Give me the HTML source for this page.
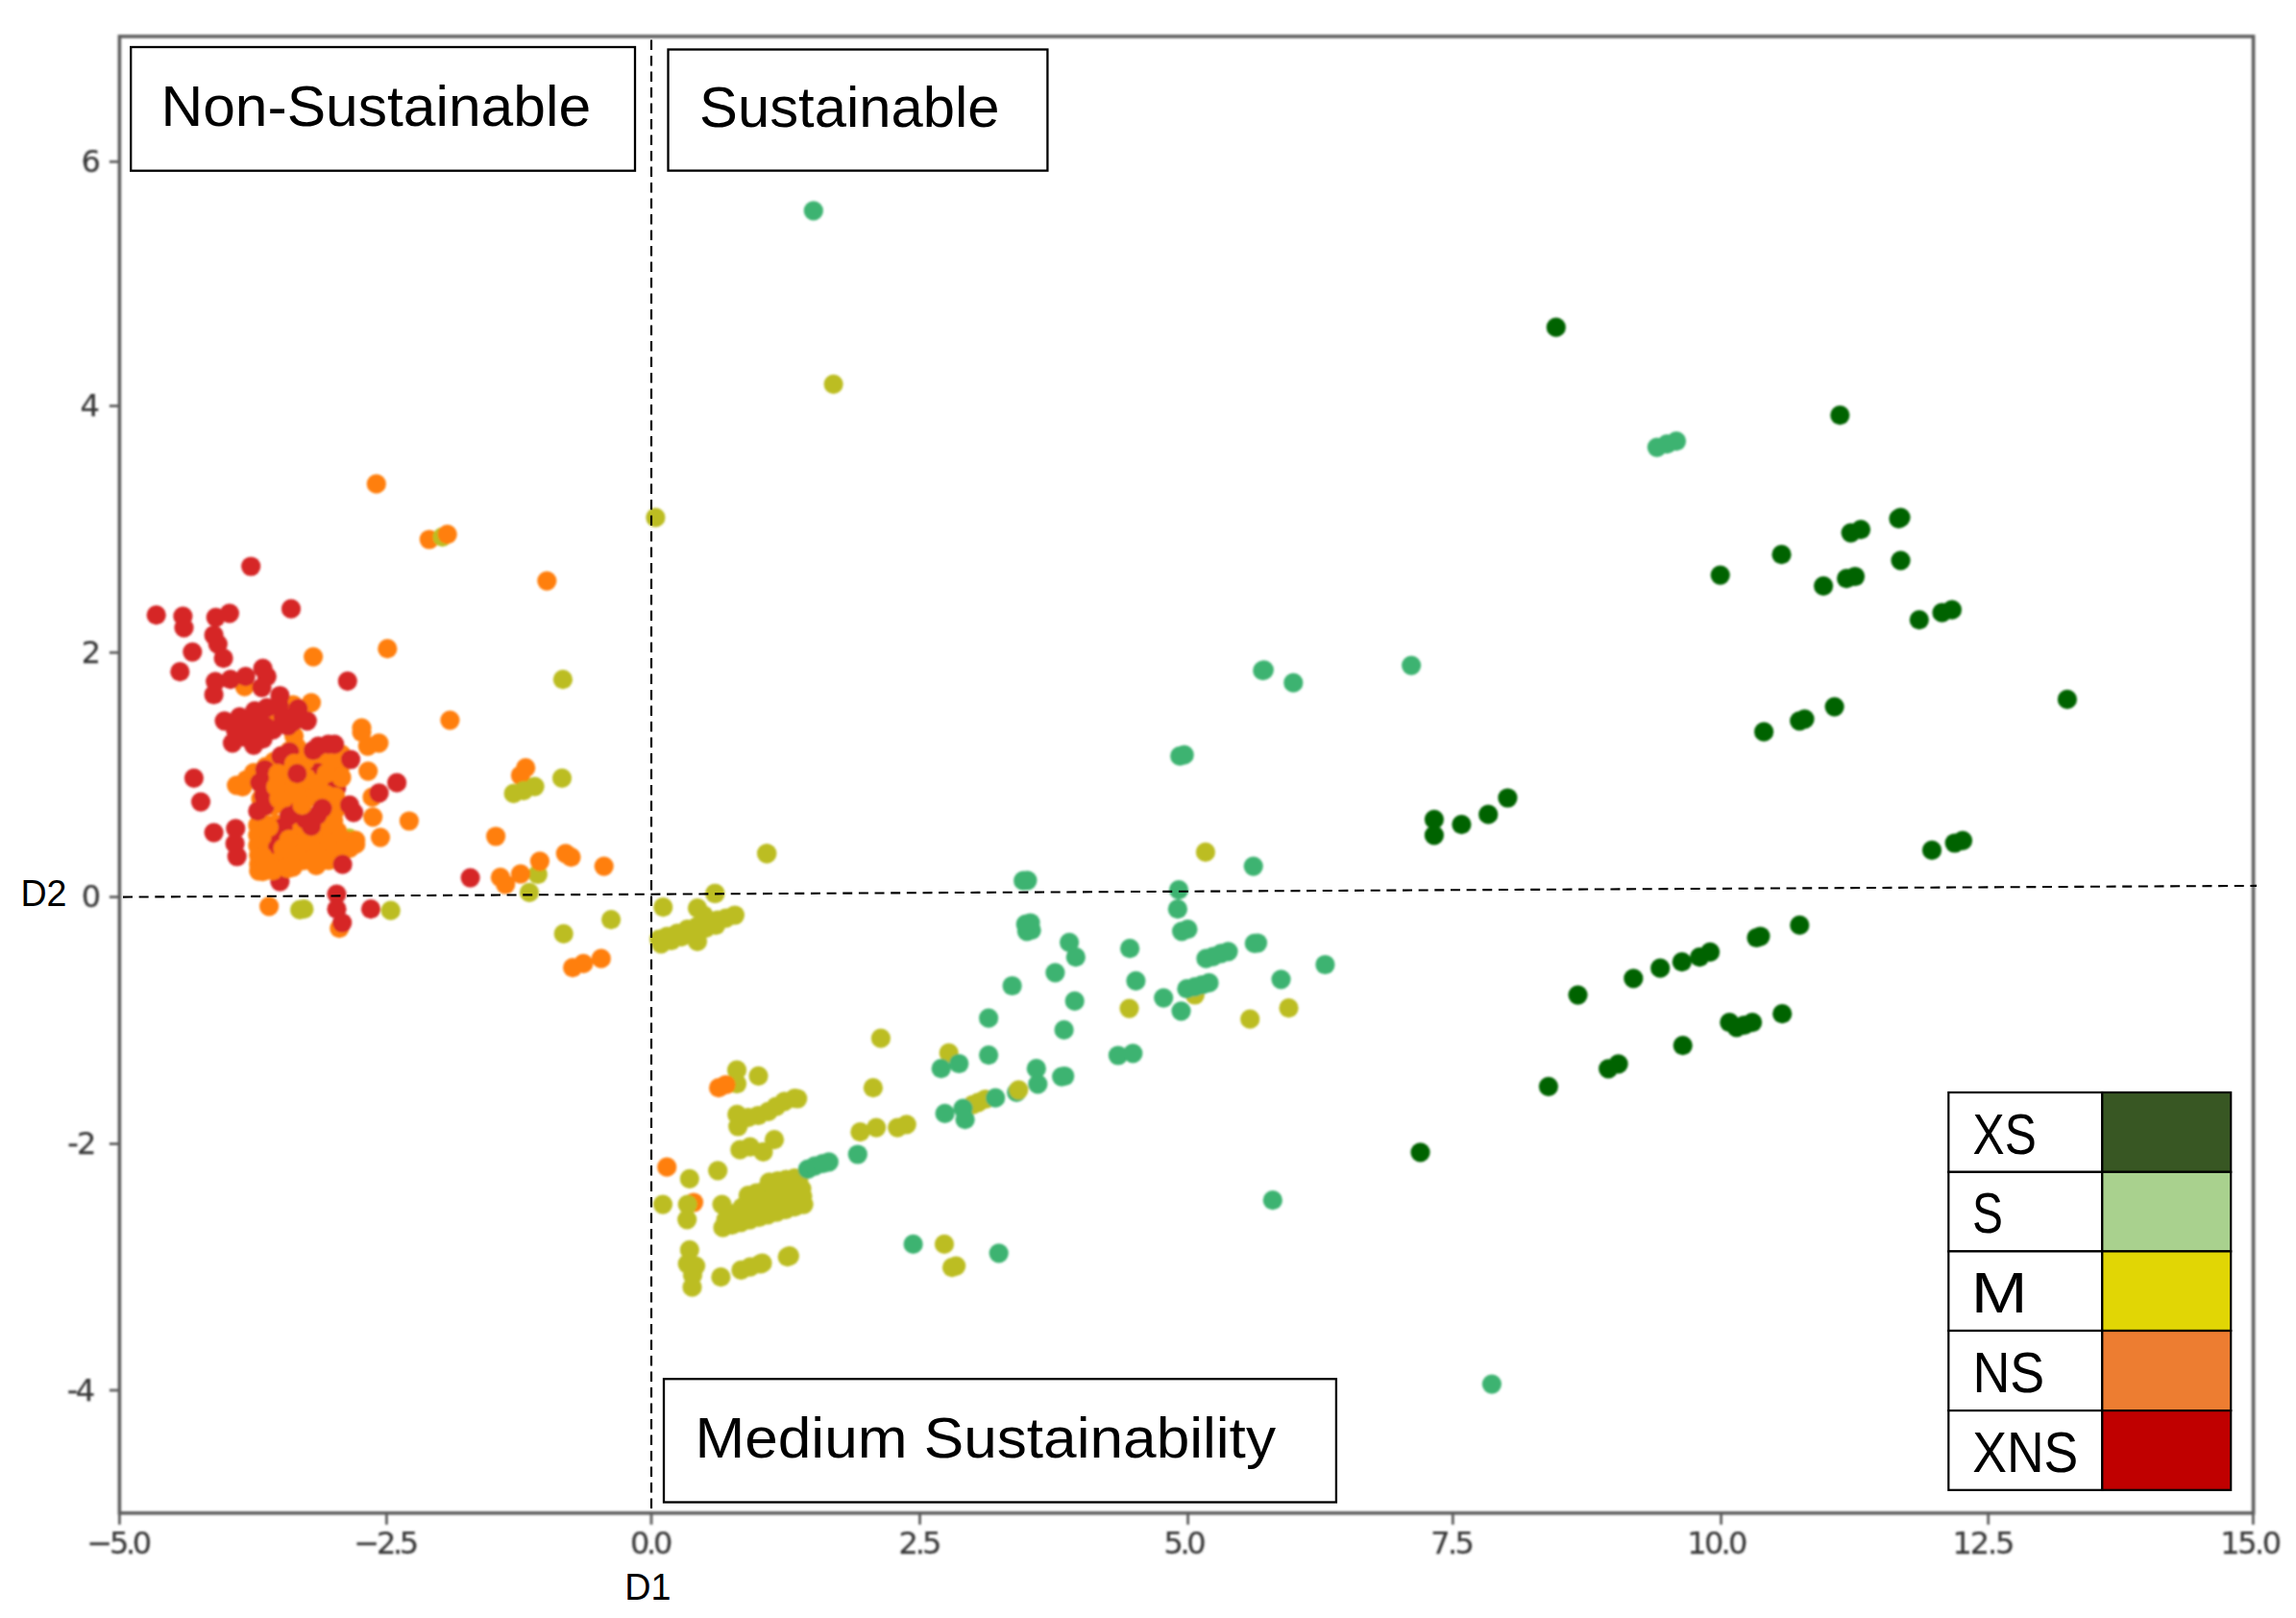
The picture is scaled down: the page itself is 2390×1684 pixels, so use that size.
<!DOCTYPE html>
<html lang="en"><head><meta charset="utf-8"><title>Sustainability scatter plot (D1 vs D2)</title>
<style>html,body{margin:0;padding:0;background:#fff}svg{display:block}.tk{font-family:"DejaVu Sans","Liberation Sans",sans-serif;font-size:32px;fill:#383838;stroke:#383838;stroke-width:0.25px}.cb{font-family:"Liberation Sans","DejaVu Sans",sans-serif;fill:#000}</style></head><body>
<svg width="2390" height="1684" viewBox="0 0 2390 1684">
<defs><filter id="b" x="-5%" y="-5%" width="110%" height="110%"><feGaussianBlur stdDeviation="1.1"/></filter><filter id="b2" x="-5%" y="-5%" width="110%" height="110%"><feGaussianBlur stdDeviation="0.9"/></filter></defs>
<rect width="2390" height="1684" fill="#fff"/>
<g filter="url(#b)">
<rect x="124.4" y="37.9" width="2221.2" height="1536.9" fill="none" stroke="#5e5e5e" stroke-width="3.6"/>
<line x1="124.4" y1="1574.8" x2="124.4" y2="1586.8" stroke="#5e5e5e" stroke-width="2.8"/>
<line x1="402.4" y1="1574.8" x2="402.4" y2="1586.8" stroke="#5e5e5e" stroke-width="2.8"/>
<line x1="678" y1="1574.8" x2="678" y2="1586.8" stroke="#5e5e5e" stroke-width="2.8"/>
<line x1="957.5" y1="1574.8" x2="957.5" y2="1586.8" stroke="#5e5e5e" stroke-width="2.8"/>
<line x1="1236.6" y1="1574.8" x2="1236.6" y2="1586.8" stroke="#5e5e5e" stroke-width="2.8"/>
<line x1="1512.3" y1="1574.8" x2="1512.3" y2="1586.8" stroke="#5e5e5e" stroke-width="2.8"/>
<line x1="1791.6" y1="1574.8" x2="1791.6" y2="1586.8" stroke="#5e5e5e" stroke-width="2.8"/>
<line x1="2069.7" y1="1574.8" x2="2069.7" y2="1586.8" stroke="#5e5e5e" stroke-width="2.8"/>
<line x1="2345.4" y1="1574.8" x2="2345.4" y2="1586.8" stroke="#5e5e5e" stroke-width="2.8"/>
<line x1="113.9" y1="168.3" x2="124.4" y2="168.3" stroke="#5e5e5e" stroke-width="2.8"/>
<line x1="113.9" y1="422.5" x2="124.4" y2="422.5" stroke="#5e5e5e" stroke-width="2.8"/>
<line x1="113.9" y1="679.2" x2="124.4" y2="679.2" stroke="#5e5e5e" stroke-width="2.8"/>
<line x1="113.9" y1="933.6" x2="124.4" y2="933.6" stroke="#5e5e5e" stroke-width="2.8"/>
<line x1="113.9" y1="1190.5" x2="124.4" y2="1190.5" stroke="#5e5e5e" stroke-width="2.8"/>
<line x1="113.9" y1="1447" x2="124.4" y2="1447" stroke="#5e5e5e" stroke-width="2.8"/>
</g>
<g filter="url(#b2)">
<text class="tk" x="90.5" y="1616.6" style="letter-spacing:-3.33px">−5.0</text>
<text class="tk" x="368.5" y="1616.6" style="letter-spacing:-3.33px">−2.5</text>
<text class="tk" x="656.0" y="1616.6" style="letter-spacing:-3.25px">0.0</text>
<text class="tk" x="935.5" y="1616.6" style="letter-spacing:-3.00px">2.5</text>
<text class="tk" x="1211.6" y="1616.6" style="letter-spacing:-3.45px">5.0</text>
<text class="tk" x="1489.3" y="1616.6" style="letter-spacing:-2.65px">7.5</text>
<text class="tk" x="1756.2" y="1616.6" style="letter-spacing:-2.67px">10.0</text>
<text class="tk" x="2032.4" y="1616.6" style="letter-spacing:-2.10px">12.5</text>
<text class="tk" x="2311.3" y="1616.6" style="letter-spacing:-2.50px">15.0</text>
<text class="tk" x="84.5" y="178.9" style="letter-spacing:0.00px">6</text>
<text class="tk" x="83.4" y="433.1" style="letter-spacing:0.00px">4</text>
<text class="tk" x="84.8" y="689.8" style="letter-spacing:0.00px">2</text>
<text class="tk" x="84.7" y="944.2" style="letter-spacing:0.00px">0</text>
<text class="tk" x="70.2" y="1201.1" style="letter-spacing:-1.70px">-2</text>
<text class="tk" x="69.8" y="1457.6" style="letter-spacing:-2.60px">-4</text>
</g>
<g filter="url(#b)">
<g fill="#3cb371">
<circle cx="846.8" cy="219.4" r="10.1"/>
</g>
<g fill="#bcbd22">
<circle cx="867.6" cy="399.8" r="10.1"/>
<circle cx="682.4" cy="538.7" r="10.1"/>
</g>
<g fill="#006400">
<circle cx="1619.8" cy="340.7" r="10.1"/>
<circle cx="1915.3" cy="432.1" r="10.1"/>
<circle cx="1978.5" cy="538.6" r="10.1"/>
<circle cx="1976.4" cy="539.8" r="10.1"/>
<circle cx="1926.6" cy="554.6" r="10.1"/>
<circle cx="1937.0" cy="551.1" r="10.1"/>
<circle cx="1854.5" cy="577.2" r="10.1"/>
<circle cx="1978.5" cy="583.4" r="10.1"/>
<circle cx="1790.7" cy="598.6" r="10.1"/>
<circle cx="1898.1" cy="609.8" r="10.1"/>
<circle cx="1922.1" cy="602.1" r="10.1"/>
<circle cx="1931.0" cy="600.0" r="10.1"/>
<circle cx="1997.8" cy="645.1" r="10.1"/>
<circle cx="2021.5" cy="637.7" r="10.1"/>
<circle cx="2031.9" cy="634.7" r="10.1"/>
<circle cx="1909.6" cy="735.6" r="10.1"/>
<circle cx="1873.2" cy="750.4" r="10.1"/>
<circle cx="1878.5" cy="748.4" r="10.1"/>
<circle cx="1836.1" cy="761.7" r="10.1"/>
</g>
<g fill="#3cb371">
<circle cx="1724.8" cy="465.6" r="10.1"/>
<circle cx="1735.2" cy="462.1" r="10.1"/>
<circle cx="1745.0" cy="459.1" r="10.1"/>
<circle cx="1469.1" cy="692.6" r="10.1"/>
</g>
<g fill="#006400">
<circle cx="2151.9" cy="727.9" r="10.1"/>
<circle cx="1492.9" cy="852.8" r="10.1"/>
<circle cx="1492.9" cy="869.4" r="10.1"/>
<circle cx="1521.4" cy="858.1" r="10.1"/>
<circle cx="1549.2" cy="847.7" r="10.1"/>
<circle cx="1569.4" cy="830.5" r="10.1"/>
<circle cx="2011.0" cy="884.9" r="10.1"/>
<circle cx="2034.7" cy="877.5" r="10.1"/>
<circle cx="2043.0" cy="874.8" r="10.1"/>
<circle cx="1873.3" cy="962.9" r="10.1"/>
<circle cx="1828.5" cy="976.0" r="10.1"/>
<circle cx="1832.4" cy="974.5" r="10.1"/>
<circle cx="1780.1" cy="990.8" r="10.1"/>
<circle cx="1769.2" cy="996.1" r="10.1"/>
<circle cx="1750.8" cy="1001.2" r="10.1"/>
<circle cx="1728.2" cy="1007.7" r="10.1"/>
<circle cx="1700.3" cy="1018.4" r="10.1"/>
<circle cx="1642.5" cy="1035.6" r="10.1"/>
<circle cx="1855.2" cy="1055.2" r="10.1"/>
<circle cx="1800.3" cy="1064.1" r="10.1"/>
<circle cx="1807.7" cy="1069.4" r="10.1"/>
<circle cx="1815.5" cy="1067.0" r="10.1"/>
<circle cx="1824.1" cy="1064.1" r="10.1"/>
<circle cx="1751.7" cy="1088.1" r="10.1"/>
<circle cx="1674.2" cy="1112.4" r="10.1"/>
<circle cx="1684.6" cy="1107.4" r="10.1"/>
<circle cx="1611.9" cy="1130.8" r="10.1"/>
<circle cx="1478.5" cy="1199.4" r="10.1"/>
</g>
<g fill="#3cb371">
<circle cx="1324.8" cy="1249.2" r="10.1"/>
<circle cx="1552.9" cy="1440.6" r="10.1"/>
<circle cx="1314.3" cy="697.9" r="10.1"/>
<circle cx="1315.8" cy="697.3" r="10.1"/>
<circle cx="1346.3" cy="710.7" r="10.1"/>
<circle cx="1228.2" cy="786.9" r="10.1"/>
<circle cx="1232.7" cy="785.7" r="10.1"/>
</g>
<g fill="#bcbd22">
<circle cx="1254.9" cy="886.9" r="10.1"/>
<circle cx="1175.5" cy="1049.6" r="10.1"/>
<circle cx="1243.8" cy="1035.5" r="10.1"/>
<circle cx="1301.2" cy="1060.7" r="10.1"/>
<circle cx="1341.5" cy="1049.2" r="10.1"/>
</g>
<g fill="#3cb371">
<circle cx="1065.2" cy="916.7" r="10.1"/>
<circle cx="1069.4" cy="916.3" r="10.1"/>
<circle cx="1072.5" cy="960.5" r="10.1"/>
<circle cx="1068.9" cy="969.3" r="10.1"/>
<circle cx="1073.6" cy="968.2" r="10.1"/>
<circle cx="1067.7" cy="961.9" r="10.1"/>
<circle cx="1113.1" cy="980.8" r="10.1"/>
<circle cx="1119.8" cy="996.2" r="10.1"/>
<circle cx="1098.4" cy="1012.4" r="10.1"/>
<circle cx="1053.6" cy="1026.0" r="10.1"/>
<circle cx="1118.7" cy="1041.8" r="10.1"/>
<circle cx="1107.6" cy="1071.9" r="10.1"/>
<circle cx="1078.8" cy="1112.2" r="10.1"/>
<circle cx="1108.2" cy="1120.0" r="10.1"/>
<circle cx="1105.1" cy="1120.6" r="10.1"/>
<circle cx="1163.9" cy="1098.5" r="10.1"/>
<circle cx="1179.3" cy="1096.4" r="10.1"/>
<circle cx="1176.1" cy="987.2" r="10.1"/>
<circle cx="1182.4" cy="1020.8" r="10.1"/>
<circle cx="1211.2" cy="1038.6" r="10.1"/>
<circle cx="1229.5" cy="1052.3" r="10.1"/>
<circle cx="1227.0" cy="926.2" r="10.1"/>
<circle cx="1225.9" cy="946.2" r="10.1"/>
<circle cx="1230.1" cy="969.3" r="10.1"/>
<circle cx="1236.4" cy="967.2" r="10.1"/>
<circle cx="1255.4" cy="997.7" r="10.1"/>
<circle cx="1262.7" cy="995.6" r="10.1"/>
<circle cx="1271.1" cy="992.4" r="10.1"/>
<circle cx="1278.5" cy="990.3" r="10.1"/>
<circle cx="1305.8" cy="981.9" r="10.1"/>
<circle cx="1309.0" cy="981.5" r="10.1"/>
<circle cx="1235.4" cy="1029.2" r="10.1"/>
<circle cx="1243.8" cy="1027.1" r="10.1"/>
<circle cx="1251.2" cy="1025.0" r="10.1"/>
<circle cx="1258.5" cy="1022.9" r="10.1"/>
<circle cx="1304.7" cy="901.6" r="10.1"/>
<circle cx="1333.5" cy="1019.3" r="10.1"/>
<circle cx="1379.4" cy="1004.0" r="10.1"/>
</g>
<g fill="#bcbd22">
<circle cx="798.1" cy="888.4" r="10.1"/>
<circle cx="744.3" cy="929.8" r="10.1"/>
<circle cx="690.3" cy="944.1" r="10.1"/>
<circle cx="726.0" cy="945.1" r="10.1"/>
<circle cx="764.9" cy="952.5" r="10.1"/>
<circle cx="636.1" cy="957.1" r="10.1"/>
<circle cx="586.7" cy="971.8" r="10.1"/>
<circle cx="686.1" cy="977.7" r="10.1"/>
<circle cx="694.5" cy="974.5" r="10.1"/>
<circle cx="705.0" cy="971.4" r="10.1"/>
<circle cx="715.5" cy="967.2" r="10.1"/>
<circle cx="726.0" cy="964.0" r="10.1"/>
<circle cx="736.5" cy="960.9" r="10.1"/>
<circle cx="747.1" cy="957.7" r="10.1"/>
<circle cx="755.5" cy="955.6" r="10.1"/>
<circle cx="726.0" cy="979.8" r="10.1"/>
<circle cx="732.3" cy="952.5" r="10.1"/>
<circle cx="688.2" cy="982.3" r="10.1"/>
<circle cx="698.7" cy="979.0" r="10.1"/>
<circle cx="709.2" cy="975.2" r="10.1"/>
<circle cx="719.7" cy="971.0" r="10.1"/>
<circle cx="734.4" cy="966.1" r="10.1"/>
<circle cx="745.0" cy="963.0" r="10.1"/>
<circle cx="916.9" cy="1080.7" r="10.1"/>
<circle cx="987.7" cy="1095.8" r="10.1"/>
<circle cx="767.0" cy="1113.7" r="10.1"/>
<circle cx="789.5" cy="1119.8" r="10.1"/>
<circle cx="767.0" cy="1128.0" r="10.1"/>
<circle cx="908.9" cy="1132.2" r="10.1"/>
</g>
<g fill="#ff7f0e">
<circle cx="596.1" cy="1007.1" r="10.1"/>
<circle cx="607.3" cy="1002.9" r="10.1"/>
<circle cx="625.8" cy="997.7" r="10.1"/>
</g>
<g fill="#3cb371">
<circle cx="1029.1" cy="1059.7" r="10.1"/>
<circle cx="1029.1" cy="1098.1" r="10.1"/>
<circle cx="998.2" cy="1107.0" r="10.1"/>
<circle cx="979.7" cy="1112.2" r="10.1"/>
</g>
<g fill="#ff7f0e">
<circle cx="748.1" cy="1132.2" r="10.1"/>
<circle cx="755.5" cy="1129.0" r="10.1"/>
</g>
<g fill="#bcbd22">
<circle cx="767.2" cy="1159.9" r="10.1"/>
<circle cx="768.2" cy="1172.5" r="10.1"/>
<circle cx="778.7" cy="1163.1" r="10.1"/>
<circle cx="789.2" cy="1161.0" r="10.1"/>
<circle cx="799.7" cy="1156.8" r="10.1"/>
<circle cx="808.1" cy="1151.5" r="10.1"/>
<circle cx="816.5" cy="1146.3" r="10.1"/>
<circle cx="827.1" cy="1143.1" r="10.1"/>
<circle cx="830.2" cy="1143.5" r="10.1"/>
<circle cx="895.4" cy="1178.2" r="10.1"/>
<circle cx="912.2" cy="1173.6" r="10.1"/>
<circle cx="934.2" cy="1173.6" r="10.1"/>
<circle cx="943.7" cy="1170.4" r="10.1"/>
<circle cx="770.3" cy="1196.7" r="10.1"/>
<circle cx="780.8" cy="1193.6" r="10.1"/>
<circle cx="794.5" cy="1198.8" r="10.1"/>
<circle cx="806.0" cy="1186.2" r="10.1"/>
<circle cx="983.0" cy="1294.9" r="10.1"/>
<circle cx="995.2" cy="1317.6" r="10.1"/>
<circle cx="991.0" cy="1319.2" r="10.1"/>
<circle cx="1018.3" cy="1147.3" r="10.1"/>
<circle cx="1012.4" cy="1149.8" r="10.1"/>
<circle cx="1025.7" cy="1144.0" r="10.1"/>
</g>
<g fill="#3cb371">
<circle cx="983.6" cy="1158.9" r="10.1"/>
<circle cx="1002.5" cy="1153.6" r="10.1"/>
<circle cx="1004.6" cy="1165.2" r="10.1"/>
<circle cx="1036.2" cy="1142.7" r="10.1"/>
<circle cx="1058.2" cy="1136.8" r="10.1"/>
<circle cx="1080.3" cy="1128.4" r="10.1"/>
</g>
<g fill="#bcbd22">
<circle cx="1060.3" cy="1134.3" r="10.1"/>
</g>
<g fill="#3cb371">
<circle cx="950.6" cy="1294.9" r="10.1"/>
<circle cx="1039.7" cy="1304.3" r="10.1"/>
</g>
<g fill="#ff7f0e">
<circle cx="694.2" cy="1214.7" r="10.1"/>
</g>
<g fill="#bcbd22">
<circle cx="717.8" cy="1226.8" r="10.1"/>
<circle cx="747.2" cy="1218.4" r="10.1"/>
<circle cx="690.0" cy="1253.6" r="10.1"/>
</g>
<g fill="#ff7f0e">
<circle cx="722.0" cy="1251.5" r="10.1"/>
</g>
<g fill="#bcbd22">
<circle cx="715.7" cy="1253.6" r="10.1"/>
<circle cx="715.2" cy="1269.3" r="10.1"/>
<circle cx="752.5" cy="1277.7" r="10.1"/>
<circle cx="761.8" cy="1275.0" r="10.1"/>
<circle cx="771.2" cy="1272.3" r="10.1"/>
<circle cx="780.5" cy="1269.7" r="10.1"/>
<circle cx="789.9" cy="1267.0" r="10.1"/>
<circle cx="799.2" cy="1264.3" r="10.1"/>
<circle cx="808.5" cy="1261.6" r="10.1"/>
<circle cx="817.9" cy="1258.9" r="10.1"/>
<circle cx="827.2" cy="1256.2" r="10.1"/>
<circle cx="836.6" cy="1253.6" r="10.1"/>
<circle cx="755.7" cy="1269.3" r="10.1"/>
<circle cx="764.5" cy="1266.6" r="10.1"/>
<circle cx="773.4" cy="1263.9" r="10.1"/>
<circle cx="782.3" cy="1261.3" r="10.1"/>
<circle cx="791.1" cy="1258.6" r="10.1"/>
<circle cx="800.0" cy="1255.9" r="10.1"/>
<circle cx="808.9" cy="1253.2" r="10.1"/>
<circle cx="817.8" cy="1250.5" r="10.1"/>
<circle cx="826.6" cy="1247.8" r="10.1"/>
<circle cx="835.5" cy="1245.1" r="10.1"/>
<circle cx="772.5" cy="1256.7" r="10.1"/>
<circle cx="781.3" cy="1253.9" r="10.1"/>
<circle cx="790.2" cy="1251.2" r="10.1"/>
<circle cx="799.0" cy="1248.4" r="10.1"/>
<circle cx="807.9" cy="1245.6" r="10.1"/>
<circle cx="816.7" cy="1242.8" r="10.1"/>
<circle cx="825.6" cy="1240.0" r="10.1"/>
<circle cx="834.5" cy="1237.3" r="10.1"/>
<circle cx="778.8" cy="1244.1" r="10.1"/>
<circle cx="787.5" cy="1241.5" r="10.1"/>
<circle cx="796.3" cy="1238.8" r="10.1"/>
<circle cx="805.0" cy="1236.2" r="10.1"/>
<circle cx="813.8" cy="1233.6" r="10.1"/>
<circle cx="822.6" cy="1231.0" r="10.1"/>
<circle cx="831.3" cy="1228.3" r="10.1"/>
<circle cx="800.8" cy="1230.4" r="10.1"/>
<circle cx="809.6" cy="1229.0" r="10.1"/>
<circle cx="818.3" cy="1227.6" r="10.1"/>
<circle cx="827.1" cy="1226.2" r="10.1"/>
<circle cx="751.5" cy="1253.6" r="10.1"/>
<circle cx="759.9" cy="1263.0" r="10.1"/>
<circle cx="717.8" cy="1300.8" r="10.1"/>
<circle cx="715.7" cy="1315.5" r="10.1"/>
<circle cx="724.1" cy="1317.6" r="10.1"/>
<circle cx="721.0" cy="1327.1" r="10.1"/>
<circle cx="720.5" cy="1339.7" r="10.1"/>
<circle cx="750.4" cy="1329.2" r="10.1"/>
<circle cx="771.4" cy="1321.9" r="10.1"/>
<circle cx="780.9" cy="1318.7" r="10.1"/>
<circle cx="791.4" cy="1315.5" r="10.1"/>
<circle cx="793.5" cy="1314.7" r="10.1"/>
<circle cx="821.9" cy="1307.1" r="10.1"/>
<circle cx="819.7" cy="1308.2" r="10.1"/>
</g>
<g fill="#3cb371">
<circle cx="840.8" cy="1216.8" r="10.1"/>
<circle cx="848.1" cy="1213.6" r="10.1"/>
<circle cx="856.5" cy="1211.0" r="10.1"/>
<circle cx="862.8" cy="1209.4" r="10.1"/>
<circle cx="892.8" cy="1201.5" r="10.1"/>
</g>
<g fill="#ff7f0e">
<circle cx="569.3" cy="604.6" r="10.1"/>
<circle cx="468.4" cy="749.6" r="10.1"/>
</g>
<g fill="#bcbd22">
<circle cx="585.9" cy="707.2" r="10.1"/>
<circle cx="585.0" cy="809.8" r="10.1"/>
</g>
<g fill="#ff7f0e">
<circle cx="547.2" cy="799.2" r="10.1"/>
<circle cx="541.9" cy="807.0" r="10.1"/>
</g>
<g fill="#bcbd22">
<circle cx="556.6" cy="818.6" r="10.1"/>
<circle cx="545.1" cy="822.8" r="10.1"/>
<circle cx="534.6" cy="825.9" r="10.1"/>
</g>
<g fill="#ff7f0e">
<circle cx="516.1" cy="870.5" r="10.1"/>
<circle cx="588.8" cy="888.4" r="10.1"/>
<circle cx="594.5" cy="892.1" r="10.1"/>
<circle cx="628.7" cy="901.6" r="10.1"/>
</g>
<g fill="#bcbd22">
<circle cx="559.8" cy="910.0" r="10.1"/>
</g>
<g fill="#ff7f0e">
<circle cx="561.9" cy="896.3" r="10.1"/>
<circle cx="541.9" cy="909.6" r="10.1"/>
<circle cx="520.9" cy="913.2" r="10.1"/>
<circle cx="526.2" cy="920.5" r="10.1"/>
</g>
<g fill="#d62728">
<circle cx="489.6" cy="913.6" r="10.1"/>
</g>
<g fill="#bcbd22">
<circle cx="551.0" cy="928.9" r="10.1"/>
<circle cx="798.3" cy="888.4" r="10.1"/>
<circle cx="744.3" cy="930.0" r="10.1"/>
</g>
<g fill="#ff7f0e">
<circle cx="391.8" cy="503.7" r="10.1"/>
<circle cx="446.8" cy="561.5" r="10.1"/>
</g>
<g fill="#bcbd22">
<circle cx="460.5" cy="558.8" r="10.1"/>
</g>
<g fill="#ff7f0e">
<circle cx="465.7" cy="556.1" r="10.1"/>
</g>
<g fill="#d62728">
<circle cx="261.2" cy="589.5" r="10.1"/>
<circle cx="162.7" cy="640.2" r="10.1"/>
<circle cx="190.4" cy="641.4" r="10.1"/>
<circle cx="191.5" cy="653.4" r="10.1"/>
<circle cx="200.3" cy="678.6" r="10.1"/>
<circle cx="187.3" cy="699.2" r="10.1"/>
</g>
<g fill="#ff7f0e">
<circle cx="383.2" cy="802.6" r="10.1"/>
<circle cx="388.2" cy="850.3" r="10.1"/>
<circle cx="425.9" cy="854.5" r="10.1"/>
</g>
<g fill="#bcbd22">
<circle cx="363.3" cy="872.3" r="10.1"/>
</g>
<g fill="#ff7f0e">
<circle cx="396.0" cy="871.6" r="10.1"/>
<circle cx="280.1" cy="943.4" r="10.1"/>
</g>
<g fill="#bcbd22">
<circle cx="312.1" cy="946.9" r="10.1"/>
<circle cx="316.4" cy="946.2" r="10.1"/>
<circle cx="406.7" cy="947.7" r="10.1"/>
</g>
<g fill="#ff7f0e">
<circle cx="353.3" cy="966.1" r="10.1"/>
</g>
<g fill="#d62728">
<circle cx="201.9" cy="809.8" r="10.1"/>
<circle cx="209.0" cy="834.6" r="10.1"/>
<circle cx="222.6" cy="866.6" r="10.1"/>
<circle cx="245.3" cy="862.4" r="10.1"/>
<circle cx="244.6" cy="878.0" r="10.1"/>
<circle cx="246.7" cy="891.5" r="10.1"/>
<circle cx="350.5" cy="930.6" r="10.1"/>
<circle cx="350.5" cy="946.2" r="10.1"/>
<circle cx="356.2" cy="960.5" r="10.1"/>
<circle cx="386.0" cy="946.2" r="10.1"/>
</g>
<g fill="#ff7f0e">
<circle cx="387.5" cy="829.7" r="10.1"/>
</g>
<g fill="#d62728">
<circle cx="413.1" cy="814.7" r="10.1"/>
<circle cx="394.6" cy="825.4" r="10.1"/>
</g>
<g fill="#ff7f0e">
<circle cx="254.6" cy="714.6" r="10.1"/>
<circle cx="324.0" cy="731.4" r="10.1"/>
<circle cx="305.1" cy="733.5" r="10.1"/>
<circle cx="279.9" cy="748.2" r="10.1"/>
<circle cx="306.1" cy="766.1" r="10.1"/>
</g>
<g fill="#d62728">
<circle cx="303.0" cy="633.7" r="10.1"/>
<circle cx="238.9" cy="638.4" r="10.1"/>
<circle cx="224.7" cy="642.6" r="10.1"/>
<circle cx="222.6" cy="661.0" r="10.1"/>
<circle cx="226.8" cy="670.4" r="10.1"/>
<circle cx="232.6" cy="685.1" r="10.1"/>
<circle cx="273.6" cy="695.7" r="10.1"/>
<circle cx="277.8" cy="704.1" r="10.1"/>
<circle cx="255.7" cy="704.1" r="10.1"/>
<circle cx="239.9" cy="707.2" r="10.1"/>
<circle cx="224.2" cy="709.3" r="10.1"/>
<circle cx="222.6" cy="723.0" r="10.1"/>
<circle cx="272.5" cy="715.6" r="10.1"/>
<circle cx="291.4" cy="724.0" r="10.1"/>
<circle cx="361.8" cy="708.8" r="10.1"/>
<circle cx="265.1" cy="739.8" r="10.1"/>
<circle cx="277.8" cy="736.6" r="10.1"/>
<circle cx="290.4" cy="734.5" r="10.1"/>
<circle cx="310.3" cy="737.7" r="10.1"/>
<circle cx="233.6" cy="750.3" r="10.1"/>
<circle cx="245.2" cy="759.7" r="10.1"/>
<circle cx="267.2" cy="760.8" r="10.1"/>
<circle cx="284.1" cy="759.7" r="10.1"/>
<circle cx="299.8" cy="755.5" r="10.1"/>
<circle cx="319.8" cy="750.3" r="10.1"/>
<circle cx="310.3" cy="746.1" r="10.1"/>
<circle cx="254.6" cy="767.1" r="10.1"/>
<circle cx="273.6" cy="769.2" r="10.1"/>
<circle cx="258.8" cy="751.3" r="10.1"/>
<circle cx="294.6" cy="746.1" r="10.1"/>
<circle cx="305.1" cy="751.3" r="10.1"/>
<circle cx="249.4" cy="746.1" r="10.1"/>
<circle cx="263.0" cy="756.6" r="10.1"/>
<circle cx="252.5" cy="757.6" r="10.1"/>
<circle cx="275.7" cy="755.5" r="10.1"/>
</g>
<g fill="#ff7f0e">
<circle cx="326.1" cy="683.6" r="10.1"/>
<circle cx="403.3" cy="675.2" r="10.1"/>
<circle cx="376.5" cy="757.6" r="10.1"/>
</g>
<g fill="#d62728">
<circle cx="242.0" cy="773.4" r="10.1"/>
<circle cx="264.1" cy="775.6" r="10.1"/>
<circle cx="252.5" cy="766.3" r="10.1"/>
<circle cx="273.6" cy="764.2" r="10.1"/>
</g>
<g fill="#ff7f0e">
<circle cx="246.2" cy="817.3" r="10.1"/>
<circle cx="256.7" cy="811.5" r="10.1"/>
<circle cx="264.1" cy="804.1" r="10.1"/>
<circle cx="252.5" cy="818.8" r="10.1"/>
<circle cx="276.7" cy="797.8" r="10.1"/>
<circle cx="285.1" cy="792.6" r="10.1"/>
<circle cx="293.5" cy="786.3" r="10.1"/>
<circle cx="301.9" cy="781.0" r="10.1"/>
<circle cx="309.3" cy="777.9" r="10.1"/>
<circle cx="273.6" cy="807.3" r="10.1"/>
<circle cx="284.1" cy="804.1" r="10.1"/>
<circle cx="294.6" cy="799.9" r="10.1"/>
<circle cx="305.1" cy="794.7" r="10.1"/>
<circle cx="315.6" cy="791.5" r="10.1"/>
<circle cx="326.1" cy="793.6" r="10.1"/>
<circle cx="336.6" cy="791.5" r="10.1"/>
<circle cx="347.1" cy="786.3" r="10.1"/>
<circle cx="355.5" cy="785.2" r="10.1"/>
<circle cx="273.6" cy="818.8" r="10.1"/>
<circle cx="284.1" cy="816.7" r="10.1"/>
<circle cx="294.6" cy="812.5" r="10.1"/>
<circle cx="305.1" cy="810.4" r="10.1"/>
<circle cx="315.6" cy="807.3" r="10.1"/>
<circle cx="326.1" cy="805.2" r="10.1"/>
<circle cx="336.6" cy="802.0" r="10.1"/>
<circle cx="347.1" cy="799.9" r="10.1"/>
<circle cx="354.5" cy="796.8" r="10.1"/>
<circle cx="271.5" cy="831.5" r="10.1"/>
<circle cx="284.1" cy="828.3" r="10.1"/>
<circle cx="294.6" cy="825.1" r="10.1"/>
<circle cx="305.1" cy="823.0" r="10.1"/>
<circle cx="315.6" cy="819.9" r="10.1"/>
<circle cx="326.1" cy="817.8" r="10.1"/>
<circle cx="336.6" cy="814.6" r="10.1"/>
<circle cx="347.1" cy="810.4" r="10.1"/>
<circle cx="354.5" cy="807.3" r="10.1"/>
<circle cx="271.5" cy="842.0" r="10.1"/>
<circle cx="284.1" cy="838.8" r="10.1"/>
<circle cx="294.6" cy="836.7" r="10.1"/>
<circle cx="305.1" cy="833.6" r="10.1"/>
<circle cx="315.6" cy="831.5" r="10.1"/>
<circle cx="326.1" cy="829.3" r="10.1"/>
<circle cx="336.6" cy="827.2" r="10.1"/>
<circle cx="347.1" cy="833.6" r="10.1"/>
<circle cx="349.2" cy="843.0" r="10.1"/>
<circle cx="347.1" cy="854.6" r="10.1"/>
<circle cx="349.2" cy="865.1" r="10.1"/>
<circle cx="268.3" cy="858.8" r="10.1"/>
<circle cx="278.1" cy="858.3" r="10.1"/>
<circle cx="288.0" cy="857.8" r="10.1"/>
<circle cx="297.9" cy="857.3" r="10.1"/>
<circle cx="307.7" cy="856.8" r="10.1"/>
<circle cx="317.6" cy="856.3" r="10.1"/>
<circle cx="327.4" cy="855.8" r="10.1"/>
<circle cx="337.3" cy="855.3" r="10.1"/>
<circle cx="347.1" cy="854.8" r="10.1"/>
<circle cx="268.3" cy="869.3" r="10.1"/>
<circle cx="277.5" cy="868.8" r="10.1"/>
<circle cx="286.7" cy="868.4" r="10.1"/>
<circle cx="296.0" cy="867.9" r="10.1"/>
<circle cx="305.2" cy="867.4" r="10.1"/>
<circle cx="314.4" cy="867.0" r="10.1"/>
<circle cx="323.6" cy="866.5" r="10.1"/>
<circle cx="332.9" cy="866.0" r="10.1"/>
<circle cx="342.1" cy="865.6" r="10.1"/>
<circle cx="351.3" cy="865.1" r="10.1"/>
<circle cx="268.3" cy="879.8" r="10.1"/>
<circle cx="277.6" cy="879.3" r="10.1"/>
<circle cx="286.8" cy="878.9" r="10.1"/>
<circle cx="296.1" cy="878.4" r="10.1"/>
<circle cx="305.4" cy="877.9" r="10.1"/>
<circle cx="314.6" cy="877.5" r="10.1"/>
<circle cx="323.9" cy="877.0" r="10.1"/>
<circle cx="333.2" cy="876.5" r="10.1"/>
<circle cx="342.4" cy="876.1" r="10.1"/>
<circle cx="351.7" cy="875.6" r="10.1"/>
<circle cx="361.0" cy="875.2" r="10.1"/>
<circle cx="370.2" cy="874.7" r="10.1"/>
<circle cx="269.3" cy="890.3" r="10.1"/>
<circle cx="279.2" cy="889.7" r="10.1"/>
<circle cx="289.0" cy="889.1" r="10.1"/>
<circle cx="298.8" cy="888.5" r="10.1"/>
<circle cx="308.6" cy="887.9" r="10.1"/>
<circle cx="318.4" cy="887.4" r="10.1"/>
<circle cx="328.2" cy="886.8" r="10.1"/>
<circle cx="338.0" cy="886.2" r="10.1"/>
<circle cx="347.8" cy="885.6" r="10.1"/>
<circle cx="357.6" cy="885.0" r="10.1"/>
<circle cx="269.3" cy="899.7" r="10.1"/>
<circle cx="278.7" cy="898.9" r="10.1"/>
<circle cx="288.0" cy="898.1" r="10.1"/>
<circle cx="297.3" cy="897.2" r="10.1"/>
<circle cx="306.6" cy="896.4" r="10.1"/>
<circle cx="315.9" cy="895.6" r="10.1"/>
<circle cx="325.2" cy="894.7" r="10.1"/>
<circle cx="334.5" cy="893.9" r="10.1"/>
<circle cx="269.3" cy="906.6" r="10.1"/>
<circle cx="278.3" cy="905.5" r="10.1"/>
<circle cx="287.2" cy="904.4" r="10.1"/>
<circle cx="296.1" cy="903.4" r="10.1"/>
<circle cx="305.1" cy="902.3" r="10.1"/>
<circle cx="363.9" cy="882.9" r="10.1"/>
<circle cx="370.2" cy="878.7" r="10.1"/>
<circle cx="341.9" cy="895.5" r="10.1"/>
<circle cx="329.2" cy="900.8" r="10.1"/>
</g>
<g fill="#d62728">
<circle cx="292.5" cy="786.8" r="10.1"/>
<circle cx="301.4" cy="782.6" r="10.1"/>
<circle cx="275.7" cy="801.0" r="10.1"/>
<circle cx="270.4" cy="814.6" r="10.1"/>
<circle cx="274.6" cy="828.3" r="10.1"/>
<circle cx="275.7" cy="838.8" r="10.1"/>
<circle cx="268.3" cy="844.1" r="10.1"/>
<circle cx="330.3" cy="804.1" r="10.1"/>
<circle cx="350.3" cy="819.9" r="10.1"/>
<circle cx="294.6" cy="860.9" r="10.1"/>
<circle cx="287.2" cy="871.4" r="10.1"/>
<circle cx="282.0" cy="878.7" r="10.1"/>
<circle cx="291.4" cy="917.6" r="10.1"/>
</g>
<g fill="#ff7f0e">
<circle cx="289.3" cy="805.2" r="10.1"/>
<circle cx="287.2" cy="818.8" r="10.1"/>
<circle cx="290.4" cy="831.5" r="10.1"/>
<circle cx="306.1" cy="794.7" r="10.1"/>
<circle cx="317.7" cy="791.5" r="10.1"/>
<circle cx="318.7" cy="809.4" r="10.1"/>
<circle cx="331.3" cy="815.7" r="10.1"/>
<circle cx="339.7" cy="805.2" r="10.1"/>
<circle cx="339.7" cy="827.2" r="10.1"/>
<circle cx="355.5" cy="809.4" r="10.1"/>
<circle cx="349.2" cy="829.3" r="10.1"/>
<circle cx="279.9" cy="860.9" r="10.1"/>
<circle cx="272.5" cy="871.4" r="10.1"/>
<circle cx="269.3" cy="880.8" r="10.1"/>
<circle cx="300.9" cy="873.5" r="10.1"/>
<circle cx="294.6" cy="882.9" r="10.1"/>
<circle cx="273.6" cy="891.3" r="10.1"/>
<circle cx="273.6" cy="907.1" r="10.1"/>
<circle cx="284.1" cy="906.1" r="10.1"/>
<circle cx="299.8" cy="904.0" r="10.1"/>
</g>
<g fill="#d62728">
<circle cx="331.3" cy="776.6" r="10.1"/>
<circle cx="341.9" cy="774.5" r="10.1"/>
<circle cx="326.1" cy="781.0" r="10.1"/>
<circle cx="348.2" cy="774.7" r="10.1"/>
<circle cx="365.0" cy="790.5" r="10.1"/>
<circle cx="309.3" cy="805.2" r="10.1"/>
<circle cx="300.9" cy="849.3" r="10.1"/>
<circle cx="310.3" cy="844.1" r="10.1"/>
<circle cx="317.7" cy="852.5" r="10.1"/>
<circle cx="324.0" cy="859.8" r="10.1"/>
<circle cx="330.3" cy="848.3" r="10.1"/>
<circle cx="335.5" cy="841.4" r="10.1"/>
<circle cx="363.9" cy="837.8" r="10.1"/>
<circle cx="368.1" cy="845.6" r="10.1"/>
<circle cx="356.6" cy="899.7" r="10.1"/>
</g>
<g fill="#ff7f0e">
<circle cx="314.5" cy="837.8" r="10.1"/>
<circle cx="382.8" cy="776.6" r="10.1"/>
<circle cx="394.4" cy="773.4" r="10.1"/>
<circle cx="376.5" cy="762.1" r="10.1"/>
</g></g>
<line x1="678" y1="41.5" x2="678" y2="1574" stroke="#000" stroke-width="2.2" stroke-dasharray="10.5 6"/>
<line x1="128" y1="933.6" x2="2349" y2="921.9" stroke="#000" stroke-width="2.1" stroke-dasharray="10 6.65"/>
<rect x="136.2" y="49" width="524.8" height="128.7" fill="#fff" stroke="#000" stroke-width="2.3"/>
<text class="cb" font-size="60" transform="translate(167.45,130.7) scale(1.0092,1)">Non-Sustainable</text>
<rect x="695.5" y="51.5" width="394.9" height="126.1" fill="#fff" stroke="#000" stroke-width="2.3"/>
<text class="cb" font-size="60" transform="translate(728.11,132.4) scale(0.9964,1)">Sustainable</text>
<rect x="691" y="1435.2" width="699.9" height="128.3" fill="#fff" stroke="#000" stroke-width="2.3"/>
<text class="cb" font-size="60" transform="translate(723.42,1517.2) scale(1.0362,1)">Medium Sustainability</text>
<rect x="2028.3" y="1137" width="160.0" height="82.8" fill="#fff" stroke="#000" stroke-width="2.2"/>
<rect x="2188.3" y="1137" width="133.9" height="82.8" fill="#385723" stroke="#000" stroke-width="2.2"/>
<text class="cb" font-size="58.5" transform="translate(2053.60,1200.6) scale(0.8479,1)">XS</text>
<rect x="2028.3" y="1219.8" width="160.0" height="82.6" fill="#fff" stroke="#000" stroke-width="2.2"/>
<rect x="2188.3" y="1219.8" width="133.9" height="82.6" fill="#a9d18e" stroke="#000" stroke-width="2.2"/>
<text class="cb" font-size="58.5" transform="translate(2053.05,1283.3999999999999) scale(0.8182,1)">S</text>
<rect x="2028.3" y="1302.4" width="160.0" height="82.6" fill="#fff" stroke="#000" stroke-width="2.2"/>
<rect x="2188.3" y="1302.4" width="133.9" height="82.6" fill="#e1d605" stroke="#000" stroke-width="2.2"/>
<text class="cb" font-size="58.5" transform="translate(2051.86,1366.0) scale(1.2077,1)">M</text>
<rect x="2028.3" y="1385" width="160.0" height="83.1" fill="#fff" stroke="#000" stroke-width="2.2"/>
<rect x="2188.3" y="1385" width="133.9" height="83.1" fill="#ed7d31" stroke="#000" stroke-width="2.2"/>
<text class="cb" font-size="58.5" transform="translate(2053.40,1448.6) scale(0.9203,1)">NS</text>
<rect x="2028.3" y="1468.1" width="160.0" height="82.7" fill="#fff" stroke="#000" stroke-width="2.2"/>
<rect x="2188.3" y="1468.1" width="133.9" height="82.7" fill="#c00000" stroke="#000" stroke-width="2.2"/>
<text class="cb" font-size="58.5" transform="translate(2053.17,1531.6999999999998) scale(0.9155,1)">XNS</text>
<text class="cb" font-size="38" transform="translate(650.32,1664.8) scale(0.9932,1)">D1</text>
<text class="cb" font-size="38" transform="translate(21.43,942.8) scale(0.9909,1)">D2</text>
</svg></body></html>
